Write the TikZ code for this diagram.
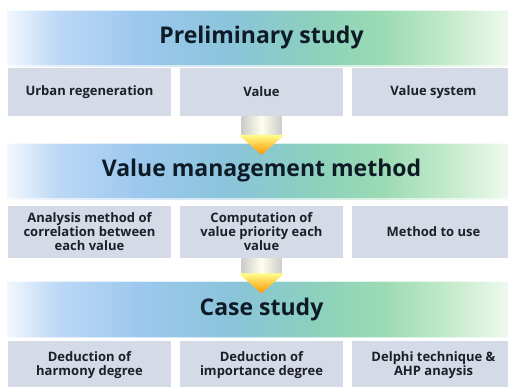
\documentclass[tikz,border=0pt]{standalone}
\usepackage{fontspec}
\setmainfont{Open Sans}
\usetikzlibrary{calc}

\definecolor{boxfill}{HTML}{D5DAE7}
\definecolor{txtdark}{HTML}{1C1F26}
\definecolor{titledark}{HTML}{0E1A26}
\definecolor{bA}{HTML}{F2F7FE}
\definecolor{bB}{HTML}{BCD8F5}
\definecolor{bC}{HTML}{9CC8EE}
\definecolor{bD}{HTML}{8AC4DA}
\definecolor{bE}{HTML}{8CD0BE}
\definecolor{bF}{HTML}{9BDBB3}
\definecolor{bG}{HTML}{C8ECCE}
\definecolor{bH}{HTML}{F4FBF3}

% left-to-right colour run of the heading bands (the path spans 25bp..75bp)
\pgfdeclarehorizontalshading{bandshade}{100bp}{%
  color(0bp)=(bA); color(25bp)=(bA); color(30bp)=(bB); color(38bp)=(bC);
  color(47bp)=(bD); color(55bp)=(bE); color(62bp)=(bF); color(69bp)=(bG);
  color(75bp)=(bH); color(100bp)=(bH)}

\tikzset{
  band/.style={minimum width=509pt, minimum height=56pt, inner sep=0pt,
    shading=bandshade, text=titledark, font=\fontsize{23}{26}\selectfont\bfseries},
  cell/.style={fill=boxfill, minimum width=163pt, inner sep=0pt, align=center,
    text=txtdark, font=\fontsize{13}{14}\selectfont\bfseries},
  stemshade/.style={left color=black!20, right color=black!20, middle color=yellow!8!white},
  headshade/.style={top color=yellow!45!white, bottom color=orange!85!yellow},
}

\begin{document}
\begin{tikzpicture}[x=1pt,y=-1pt]
\useasboundingbox (0,0) rectangle (508,386);
\clip (0,0) rectangle (508,386);

% stage 1
\node[band] (h1) at (261.5,38) {Preliminary study};
\node[cell, minimum height=48pt] (a1) at (89.5,92) {Urban regeneration};
\node[cell, minimum height=48pt] (a2) at (261.5,92) {Value};
\node[cell, minimum height=48pt] (a3) at (433.5,92) {Value system};

% stage 2
\node[band] (h2) at (261.5,171) {Value management method};
\node[cell, minimum height=52pt] (b1) at (89.5,232) {Analysis method of\\correlation between\\each value};
\node[cell, minimum height=52pt] (b2) at (261.5,232) {Computation of\\value priority each\\value};
\node[cell, minimum height=52pt] (b3) at (433.5,232) {Method to use};

% stage 3
\node[band] (h3) at (261.5,309.5) {Case study};
\node[cell, minimum height=48pt] (c1) at (89.5,365) {Deduction of\\harmony degree};
\node[cell, minimum height=48pt] (c2) at (261.5,365) {Deduction of\\importance degree};
\node[cell, minimum height=48pt] (c3) at (433.5,365) {Delphi technique \&\\AHP anaysis};

% soft highlight along the band edges
\foreach \h in {h1,h2,h3}{
  \draw[white, opacity=0.7, line width=1.5pt] (\h.north west) -- (\h.north east);
  \draw[white, opacity=0.6, line width=1.5pt] (\h.south west) -- (\h.south east);
}

% block arrows from each row of cells down to the next band
\foreach \src/\dst in {a2/h2, b2/h3}{
  \coordinate (s) at (\src.south);
  \coordinate (t) at ($(\dst.north)+(0,12)$);
  \shade[stemshade] ($(s)+(-20,0)$) rectangle ($(t)+(20,-20)$);
  \shade[headshade] ($(t)+(-23,-20)$) -- ($(t)+(23,-20)$) -- (t) -- cycle;
}
\end{tikzpicture}
\end{document}
